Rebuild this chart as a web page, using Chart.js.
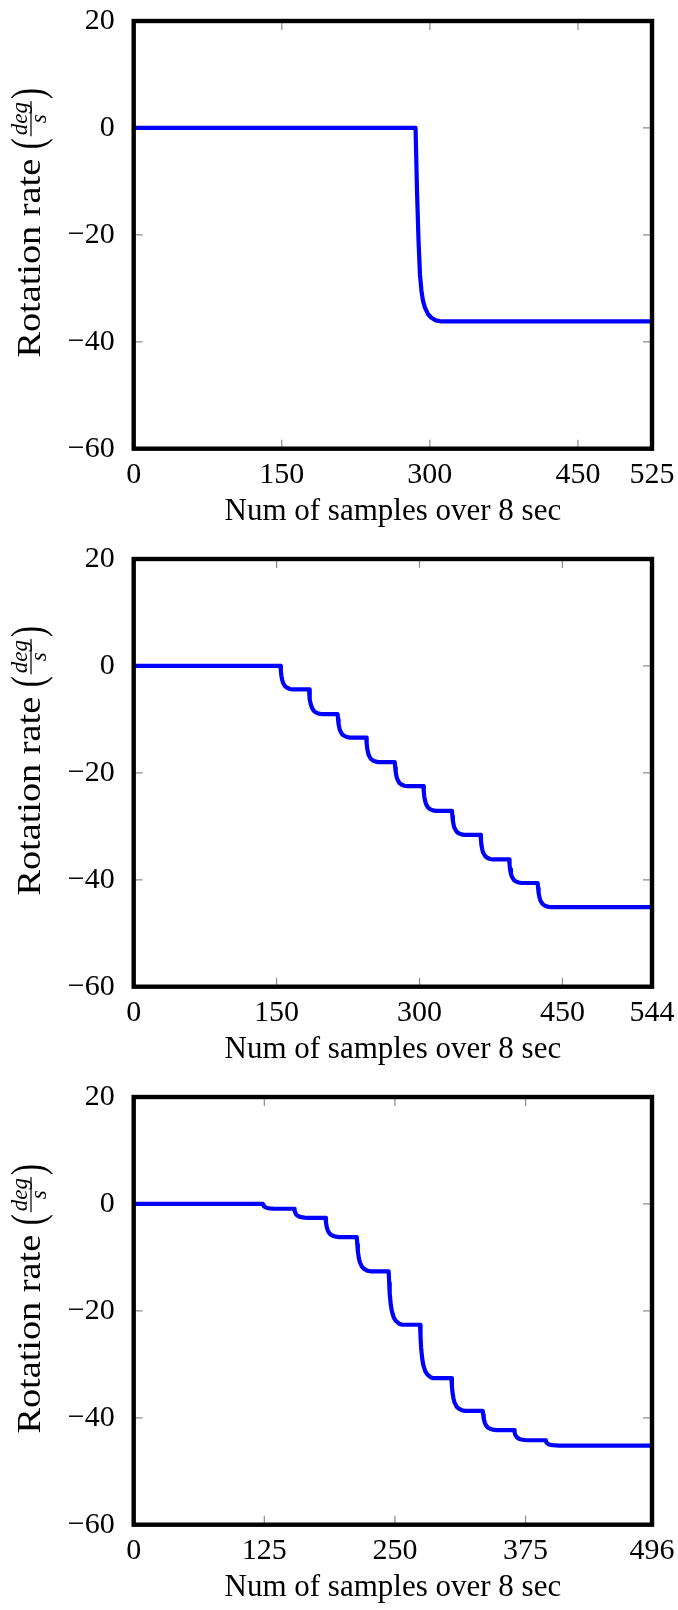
<!DOCTYPE html>
<html>
<head>
<meta charset="utf-8">
<script src="https://cdn.jsdelivr.net/npm/chart.js@4.4.1/dist/chart.umd.min.js"></script>
<style>
  html, body { margin: 0; padding: 0; background: #fff; }
  .panel { position: absolute; left: 0; width: 678px; height: 538px; }
</style>
</head>
<body>
<canvas id="c1" class="panel" width="678" height="538" style="top:0px"></canvas>
<canvas id="c2" class="panel" width="678" height="538" style="top:538px"></canvas>
<canvas id="c3" class="panel" width="678" height="538" style="top:1076px"></canvas>
<script>
// --- data ---
const yTicks = [-60, -40, -20, 0, 20];

// panel 1: one big drop
const xTicks1 = [0, 150, 300, 450, 525];
const samples1 = [0, 285.5, 287, 288.5, 290, 291.5, 293, 295, 298, 301.5, 306, 312, 525];
const rate1 = [0, 0, -12, -21, -27.5, -30.5, -32.3, -33.6, -34.8, -35.5, -36, -36.2, -36.2];

// panel 2: ten equal steps
const xTicks2 = [0, 150, 300, 450, 544];
const samples2 = [
  0,
  154, 154.5, 155, 156, 157, 159, 161, 164, 167,
  184, 184.5, 185, 186, 187, 189, 191, 194, 197,
  214, 214.5, 215, 216, 217, 219, 221, 224, 227,
  244, 244.5, 245, 246, 247, 249, 251, 254, 257,
  274, 274.5, 275, 276, 277, 279, 281, 284, 287,
  304, 304.5, 305, 306, 307, 309, 311, 314, 317,
  334, 334.5, 335, 336, 337, 339, 341, 344, 347,
  364, 364.5, 365, 366, 367, 369, 371, 374, 377,
  394, 394.5, 395, 396, 397, 399, 401, 404, 407,
  424, 424.5, 425, 426, 427, 429, 431, 434, 437,
  544
];
const rate2 = [
  0,
  0, -0.97, -1.85, -2.73, -3.26, -3.83, -4.09, -4.31, -4.4,
  -4.4, -5.41, -6.33, -7.25, -7.8, -8.4, -8.68, -8.91, -9.0,
  -9.0, -9.97, -10.85, -11.73, -12.26, -12.83, -13.09, -13.31, -13.4,
  -13.4, -14.41, -15.33, -16.25, -16.8, -17.4, -17.68, -17.91, -18.0,
  -18.0, -18.99, -19.89, -20.79, -21.33, -21.92, -22.19, -22.41, -22.5,
  -22.5, -23.51, -24.43, -25.35, -25.9, -26.5, -26.78, -27.01, -27.1,
  -27.1, -28.09, -28.99, -29.89, -30.43, -31.02, -31.29, -31.51, -31.6,
  -31.6, -32.61, -33.53, -34.45, -35.0, -35.6, -35.88, -36.11, -36.2,
  -36.2, -37.17, -38.05, -38.93, -39.46, -40.03, -40.29, -40.51, -40.6,
  -40.6, -41.59, -42.49, -43.39, -43.93, -44.52, -44.79, -45.01, -45.1,
  -45.1
];

// panel 3: uneven steps
const xTicks3 = [0, 125, 250, 375, 496];
const samples3 = [
  0,
  123.5, 124, 124.5, 125.5, 126.5, 128.5, 130.5, 133.5, 136.5,
  153.5, 154, 154.5, 155.5, 156.5, 158.5, 160.5, 163.5, 166.5,
  183.5, 184, 184.5, 185.5, 186.5, 188.5, 190.5, 193.5, 196.5,
  213.5, 214, 214.5, 215.5, 216.5, 218.5, 220.5, 223.5, 226.5,
  244, 244.5, 245, 246, 247, 249, 251, 254, 257,
  274, 274.5, 275, 276, 277, 279, 281, 284, 287,
  304, 304.5, 305, 306, 307, 309, 311, 314, 317,
  334, 334.5, 335, 336, 337, 339, 341, 344, 347,
  364, 364.5, 365, 366, 367, 369, 371, 374, 377,
  394, 394.5, 395, 396, 397, 399, 401, 404, 407,
  496
];
const rate3 = [
  0,
  0, -0.2, -0.38, -0.56, -0.67, -0.78, -0.84, -0.88, -0.9,
  -0.9, -1.27, -1.61, -1.95, -2.16, -2.38, -2.48, -2.57, -2.6,
  -2.6, -3.39, -4.11, -4.83, -5.26, -5.73, -5.95, -6.13, -6.2,
  -6.2, -7.61, -8.89, -10.17, -10.94, -11.77, -12.15, -12.47, -12.6,
  -12.6, -14.8, -16.8, -18.8, -20.0, -21.3, -21.9, -22.4, -22.6,
  -22.6, -24.8, -26.8, -28.8, -30.0, -31.3, -31.9, -32.4, -32.6,
  -32.6, -33.94, -35.16, -36.38, -37.11, -37.91, -38.27, -38.58, -38.7,
  -38.7, -39.49, -40.21, -40.93, -41.36, -41.83, -42.05, -42.23, -42.3,
  -42.3, -42.72, -43.1, -43.48, -43.71, -43.95, -44.07, -44.16, -44.2,
  -44.2, -44.42, -44.62, -44.82, -44.94, -45.07, -45.13, -45.18, -45.2,
  -45.2
];

const xTitle = 'Num of samples over 8 sec';
const yTitle = 'Rotation rate ';

// --- drawing ---
const SERIF = '"Liberation Serif", "DejaVu Serif", serif';
const TICK_LEN = 9;
const Y_FONT = 33;
const Y_STRETCH = 1.16; // the TeX font runs wider than Liberation
const FRAC_FONT = 23;

function fmt(v) {
  return v < 0 ? '\u2212' + Math.abs(v) : String(v);
}

// y title with the (deg / s) fraction, written sideways
function drawYTitle(ctx, cx, cy) {
  ctx.save();
  ctx.translate(cx, cy);
  ctx.rotate(-Math.PI / 2);
  ctx.fillStyle = '#000';
  ctx.textAlign = 'left';
  ctx.textBaseline = 'alphabetic';
  ctx.font = Y_FONT + 'px ' + SERIF;
  const wMain = ctx.measureText(yTitle).width * Y_STRETCH;
  const wParen = ctx.measureText('(').width;
  ctx.font = 'italic ' + FRAC_FONT + 'px ' + SERIF;
  const wNum = ctx.measureText('deg').width;
  const wFrac = wNum + 4;
  const total = wMain + wParen * 2 + wFrac + 2;
  const axis = -8.5;
  let x = -total / 2 + 12;

  ctx.font = Y_FONT + 'px ' + SERIF;
  ctx.save();
  ctx.translate(x, 0);
  ctx.scale(Y_STRETCH, 1);
  ctx.fillText(yTitle, 0, 0);
  ctx.restore();
  x += wMain;
  // stretched parens around the fraction
  ctx.save();
  ctx.translate(x, axis);
  ctx.scale(1, 1.4);
  ctx.fillText('(', 0, 0.255 * Y_FONT);
  ctx.restore();
  x += wParen + 1;

  ctx.font = 'italic ' + FRAC_FONT + 'px ' + SERIF;
  ctx.textAlign = 'center';
  ctx.fillText('deg', x + wFrac / 2, axis - 4.5);
  ctx.fillText('s', x + wFrac / 2, axis + 15);
  ctx.fillRect(x + 1, axis - 0.6, wFrac - 2, 1.2);
  x += wFrac + 1;

  ctx.textAlign = 'left';
  ctx.font = Y_FONT + 'px ' + SERIF;
  ctx.save();
  ctx.translate(x, axis);
  ctx.scale(1, 1.4);
  ctx.fillText(')', 0, 0.255 * Y_FONT);
  ctx.restore();
  ctx.restore();
}

const pgfFrame = {
  id: 'pgfFrame',
  beforeDatasetsDraw(chart) {
    const { ctx, chartArea: a, scales: { x, y } } = chart;
    ctx.save();
    ctx.strokeStyle = '#8c8c8c';
    ctx.lineWidth = 1.2;
    ctx.beginPath();
    x.ticks.forEach(t => {
      const px = x.getPixelForValue(t.value);
      ctx.moveTo(px, a.bottom); ctx.lineTo(px, a.bottom - TICK_LEN);
      ctx.moveTo(px, a.top); ctx.lineTo(px, a.top + TICK_LEN);
    });
    y.ticks.forEach(t => {
      const py = y.getPixelForValue(t.value);
      ctx.moveTo(a.left, py); ctx.lineTo(a.left + TICK_LEN, py);
      ctx.moveTo(a.right, py); ctx.lineTo(a.right - TICK_LEN, py);
    });
    ctx.stroke();
    ctx.restore();
  },
  afterDatasetsDraw(chart) {
    const { ctx, chartArea: a } = chart;
    ctx.save();
    ctx.strokeStyle = '#000';
    ctx.lineWidth = 4.4;
    ctx.strokeRect(a.left, a.top, a.right - a.left, a.bottom - a.top);
    ctx.restore();
  },
  afterDraw(chart) {
    const { ctx, chartArea: a } = chart;
    ctx.save();
    ctx.fillStyle = '#000';
    ctx.font = '31px ' + SERIF;
    ctx.textAlign = 'center';
    ctx.textBaseline = 'alphabetic';
    ctx.fillText(xTitle, (a.left + a.right) / 2, 520);
    ctx.restore();
    drawYTitle(ctx, 39.5, (a.top + a.bottom) / 2);
  }
};

// drop the label overhang paddings so the plot box sits where the layout says
function noPad(s) {
  s.paddingTop = 0; s.paddingBottom = 0; s.paddingLeft = 0; s.paddingRight = 0;
}

function makeChart(id, xs, ys, xTicks) {
  const points = xs.map((v, i) => ({ x: v, y: ys[i] }));
  return new Chart(document.getElementById(id), {
    type: 'line',
    data: {
      datasets: [{
        data: points,
        borderColor: '#0000ff',
        borderWidth: 4.2,
        borderJoinStyle: 'round',
        pointRadius: 0,
        tension: 0,
        fill: false
      }]
    },
    options: {
      responsive: false,
      animation: false,
      events: [],
      layout: { padding: { left: 0, top: 21, right: 26, bottom: 0 } },
      plugins: { legend: { display: false }, tooltip: { enabled: false } },
      scales: {
        x: {
          type: 'linear',
          min: 0,
          max: xTicks[xTicks.length - 1],
          grid: { display: false },
          border: { display: false },
          afterBuildTicks: s => { s.ticks = xTicks.map(v => ({ value: v })); },
          afterFit: s => { s.height = 89.3; noPad(s); },
          ticks: {
            autoSkip: false,
            maxRotation: 0,
            padding: 0,
            color: '#000',
            font: { family: SERIF, size: 30 },
            callback: v => fmt(v)
          }
        },
        y: {
          min: -60,
          max: 20,
          grid: { display: false },
          border: { display: false },
          afterBuildTicks: s => { s.ticks = yTicks.map(v => ({ value: v })); },
          afterFit: s => { s.width = 133.7; noPad(s); },
          ticks: {
            padding: 11,
            color: '#000',
            font: { family: SERIF, size: 30 },
            callback: v => fmt(v)
          }
        }
      }
    },
    plugins: [pgfFrame]
  });
}

makeChart('c1', samples1, rate1, xTicks1);
makeChart('c2', samples2, rate2, xTicks2);
makeChart('c3', samples3, rate3, xTicks3);
</script>
</body>
</html>
